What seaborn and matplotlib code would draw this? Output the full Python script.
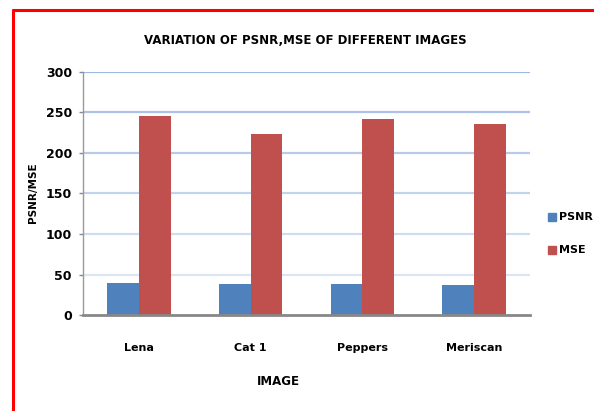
import matplotlib
matplotlib.use("Agg")
import matplotlib.pyplot as plt
import seaborn as sns
import pandas as pd
import numpy as np
from matplotlib.lines import Line2D
from matplotlib.patches import Rectangle

images = ["Lena", "Cat 1", "Peppers", "Meriscan"]
psnr = [39.5, 38.3, 38.0, 37.0]
mse = [245.5, 223.0, 242.5, 235.5]
series = ["PSNR", "MSE"]
yticks = [0, 50, 100, 150, 200, 250, 300]

df = pd.DataFrame({
    "IMAGE": images * 2,
    "value": psnr + mse,
    "series": ["PSNR"] * len(images) + ["MSE"] * len(images),
})

sns.set_style("white")
FONT = ["DejaVu Sans"]
plt.rcParams["font.family"] = FONT
plt.rcParams["text.color"] = "black"
plt.rcParams["xtick.color"] = "black"
plt.rcParams["ytick.color"] = "black"
plt.rcParams["axes.labelcolor"] = "black"

fig = plt.figure(figsize=(5.94, 4.11), dpi=100)
ax = fig.add_axes([83/594, 1-315/411, 447/594, 243/411])

palette = {"PSNR": "#4F81BD", "MSE": "#C0504D"}
sns.barplot(data=df, x="IMAGE", y="value", hue="series", hue_order=series,
            palette=palette, width=0.57, ax=ax, legend=False, saturation=1,
            linewidth=0, zorder=3)

ax.set_ylim(0, 300)
ax.set_xlim(-0.5, 3.5)
ax.set_yticks(yticks)
ax.set_yticklabels([str(v) for v in yticks], fontsize=9, fontweight="bold")
ax.set_xticks(range(len(images)))
ax.set_xticklabels(images, fontsize=8, fontweight="bold")
ax.tick_params(axis="x", length=0, pad=20)
ax.tick_params(axis="y", length=3, width=1, color="#888888", labelcolor="black",
               pad=5, direction="out", left=True)

top_c = np.array([0x9E, 0xB8, 0xE2]) / 255
bot_c = np.array([0xDD, 0xE5, 0xF3]) / 255
for y in yticks[1:]:
    t = (y - 50) / 250
    c = bot_c * (1 - t) + top_c * t
    ax.axhline(y, color=c, linewidth=1.6, zorder=1)

for s in ["top", "right"]:
    ax.spines[s].set_visible(False)
ax.spines["left"].set_color("#999999")
ax.spines["left"].set_linewidth(1)
ax.spines["bottom"].set_color("#888888")
ax.spines["bottom"].set_linewidth(2)
ax.spines["left"].set_zorder(4)
ax.spines["bottom"].set_zorder(4)

ax.set_xlabel("IMAGE", fontsize=8.5, fontweight="bold")
ax.xaxis.set_label_coords((278 - 83) / 447, -(381 - 315) / 243)
ax.xaxis.label.set_verticalalignment("center")
ax.set_ylabel("PSNR/MSE", fontsize=7.5, fontweight="bold")
ax.yaxis.set_label_coords(-45/447, 122/243)

fig.text(305/594, 1-40/411, "VARIATION OF PSNR,MSE OF DIFFERENT IMAGES",
         ha="center", va="center", fontsize=8.5, fontweight="bold")

# legend
for i, (name, col) in enumerate(palette.items()):
    yc = [217, 250][i]
    fig.patches.append(Rectangle((548/594, 1-(yc+4)/411), 8/594, 8/411,
                                 transform=fig.transFigure, color=col, figure=fig))
    fig.text(559/594, 1-yc/411, name, ha="left", va="center", fontsize=8, fontweight="bold")

# red frame
fig.add_artist(Line2D([13/594, 1], [1-10/411, 1-10/411], color="#FF0000", linewidth=2.2,
                      transform=fig.transFigure))
fig.add_artist(Line2D([13/594, 13/594], [1-10/411, 0], color="#FF0000", linewidth=2.2,
                      transform=fig.transFigure))

fig.savefig("out.png", dpi=100)
